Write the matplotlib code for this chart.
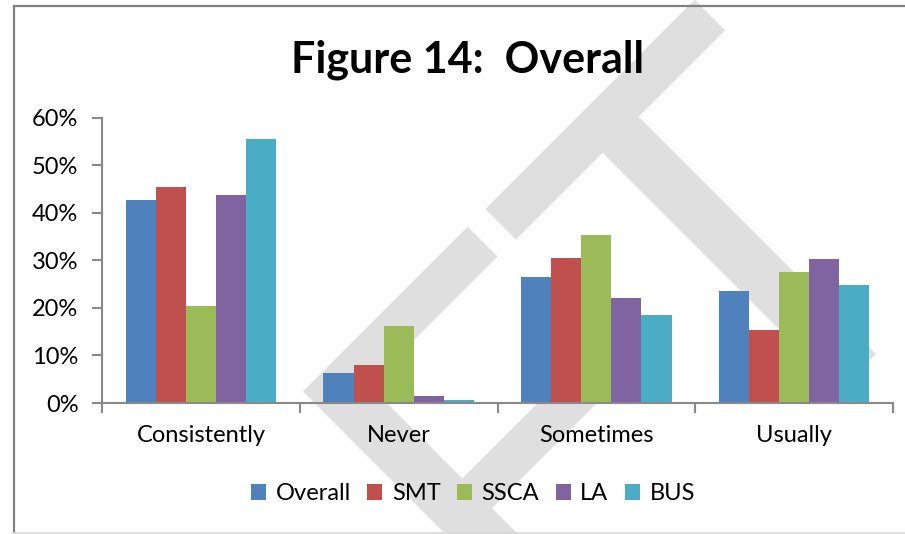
import matplotlib
matplotlib.use('Agg')
import matplotlib.pyplot as plt
from matplotlib.patches import Patch
from matplotlib.lines import Line2D
import numpy as np

plt.rcParams['font.family'] = ['Lato', 'DejaVu Sans']

categories = ['Consistently', 'Never', 'Sometimes', 'Usually']
series = ['Overall', 'SMT', 'SSCA', 'LA', 'BUS']
overall = [0.426, 0.064, 0.265, 0.235]
smt = [0.454, 0.080, 0.305, 0.153]
ssca = [0.204, 0.162, 0.353, 0.275]
la = [0.437, 0.015, 0.221, 0.303]
bus = [0.555, 0.006, 0.185, 0.248]
colours = ['#4F81BD', '#C0504D', '#9BBB59', '#8064A2', '#4BACC6']

fig = plt.figure(figsize=(9.05, 5.34), dpi=100)

# watermark behind everything
fig.text(680/905, 1+48/534, 'DRAFT', rotation=45, rotation_mode='anchor',
         ha='right', va='top', fontsize=380, color='#dfdfdf', zorder=-5)

# chart frame
fig.add_artist(Line2D([14/905, 14/905], [0, 1-6/534], color='#808080', lw=1.6))
fig.add_artist(Line2D([14/905, 1], [1-6/534, 1-6/534], color='#808080', lw=1.6))
fig.add_artist(Line2D([14/905, 1], [1/534, 1/534], color='#d9d9d9', lw=1.2))

ax = fig.add_axes([102/905, 131/534, 791/905, 285.3/534])
ax.set_zorder(1)
ax.patch.set_alpha(0)

x = np.arange(len(categories))
w = 0.152
for i, (vals, c) in enumerate(zip([overall, smt, ssca, la, bus], colours)):
    ax.bar(x + (i - 2)*w, vals, w, color=c, zorder=2)

ax.set_xlim(-0.5, len(categories) - 0.5)
ax.set_ylim(0, 0.6)
ax.set_yticks(np.arange(0, 0.61, 0.1))
ax.set_yticklabels(['{:.0f}%'.format(v*100) for v in np.arange(0, 0.61, 0.1)])
ax.set_xticks(x)
ax.set_xticklabels(categories)
ax.set_xticks(np.arange(-0.5, len(categories)), minor=True)

for s in ['top', 'right']:
    ax.spines[s].set_visible(False)
for s in ['left', 'bottom']:
    ax.spines[s].set_color('#898989')
    ax.spines[s].set_linewidth(1.5)

ax.tick_params(axis='x', which='major', length=0, pad=16, labelsize=17)
ax.tick_params(axis='x', which='minor', length=7, width=1.5, color='#898989')
ax.tick_params(axis='y', length=7, width=1.5, color='#898989', pad=10, labelsize=17)

fig.text(468/905, 1-73/534, 'Figure 14:  Overall', ha='center', va='baseline',
         fontsize=31, fontweight='bold')

handles = [Patch(facecolor=c, edgecolor='none') for c in colours]
fig.legend(handles, series, loc='center', bbox_to_anchor=(473/905, 1-494/534),
           ncol=5, frameon=False, fontsize=17, handlelength=0.64, handleheight=0.64,
           handletextpad=0.4, columnspacing=0.7, borderpad=0)

fig.savefig('out.png', dpi=100)
